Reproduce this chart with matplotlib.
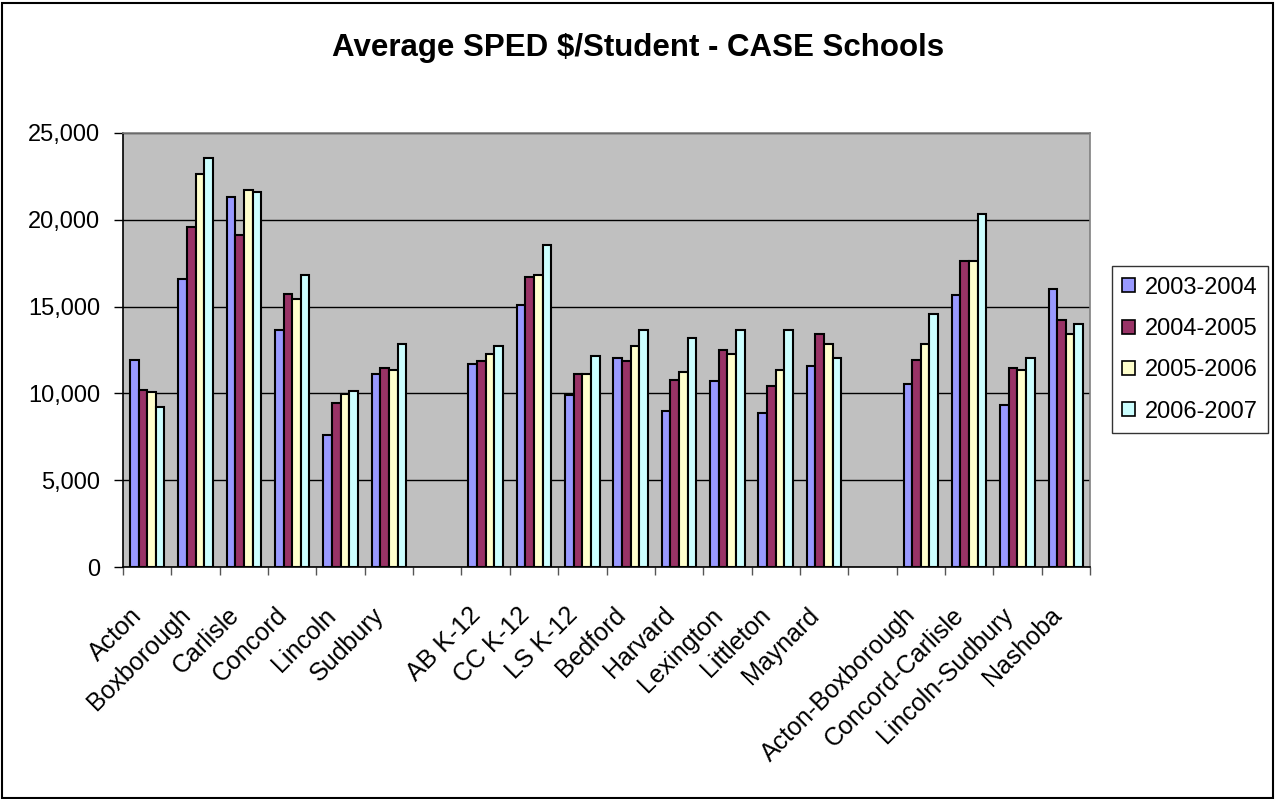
import numpy as np
import matplotlib
matplotlib.use("Agg")
import matplotlib.pyplot as plt
from matplotlib.patches import Rectangle
from matplotlib.ticker import FuncFormatter, MultipleLocator
from matplotlib.transforms import ScaledTranslation

plt.rcParams['font.family'] = ['Liberation Sans', 'DejaVu Sans']

categories = ["Acton", "Boxborough", "Carlisle", "Concord", "Lincoln", "Sudbury", "",
              "AB K-12", "CC K-12", "LS K-12", "Bedford", "Harvard", "Lexington",
              "Littleton", "Maynard", "",
              "Acton-Boxborough", "Concord-Carlisle", "Lincoln-Sudbury", "Nashoba"]

series_names = ["2003-2004", "2004-2005", "2005-2006", "2006-2007"]
nan = np.nan
y2003 = [11950, 16600, 21300, 13650, 7620, 11130, nan,
         11700, 15120, 9880, 12030, 8960, 10690, 8850, 11590, nan,
         10560, 15690, 9310, 16030]
y2004 = [10210, 19560, 19100, 15700, 9430, 11480, nan,
         11840, 16720, 11110, 11840, 10800, 12490, 10440, 13430, nan,
         11940, 17600, 11480, 14220]
y2005 = [10100, 22620, 21700, 15440, 9980, 11360, nan,
         12280, 16820, 11110, 12740, 11260, 12260, 11360, 12820, nan,
         12840, 17600, 11360, 13410]
y2006 = [9200, 23540, 21610, 16820, 10120, 12850, nan,
         12720, 18540, 12160, 13640, 13180, 13640, 13640, 12030, nan,
         14560, 20360, 12050, 13980]

colors = ["#9999FF", "#993366", "#FFFFCC", "#CCFFFF"]

W, H = 1276, 799
fig = plt.figure(figsize=(W / 100, H / 100), dpi=100)
ax = fig.add_axes([123 / W, 1 - 567 / H, (1090 - 123) / W, (567 - 133) / H])
ax.set_facecolor("#C0C0C0")

x = np.arange(len(categories))
group = 1 / 1.4
bw = group / 4
for i, (vals, c, name) in enumerate(zip([y2003, y2004, y2005, y2006], colors, series_names)):
    offs = -group / 2 + bw * (i + 0.5)
    ax.bar(x + offs, vals, width=bw, color=c, edgecolor="black", linewidth=1.5,
           label=name, zorder=3)

ax.set_xlim(-0.5, len(categories) - 0.5)
ax.set_ylim(0, 25000)
ax.yaxis.set_major_locator(MultipleLocator(5000))
ax.yaxis.set_major_formatter(FuncFormatter(lambda v, p: f"{int(v):,}"))
ax.grid(axis="y", color="black", linewidth=1.0, zorder=1)
ax.set_axisbelow(True)

ax.set_xticks(np.arange(len(categories) + 1) - 0.5)
ax.set_xticklabels([])
ax.set_xticks(x, minor=True)
ax.set_xticklabels(categories, minor=True, rotation=45, ha="right",
                   va="top", rotation_mode="anchor", fontsize=18)
ax.tick_params(axis="x", which="minor", length=0, pad=26)
shift = ScaledTranslation(-17 / 100, 0, fig.dpi_scale_trans)
for lab in ax.get_xticklabels(minor=True):
    lab.set_transform(lab.get_transform() + shift)
ax.tick_params(axis="x", which="major", length=6, width=1, color="#555555", direction="out")
ax.tick_params(axis="y", length=6.5, width=1, color="black", direction="out",
               labelsize=17, pad=10)

for side in ["top", "right"]:
    ax.spines[side].set_color("#808080")
    ax.spines[side].set_linewidth(1.2)
for side in ["left", "bottom"]:
    ax.spines[side].set_color("black")
    ax.spines[side].set_linewidth(1.2)

fig.text(0.5, 1 - 48 / H, "Average SPED $/Student - CASE Schools",
         ha="center", va="center", fontsize=22.5, fontweight="bold")

leg = fig.legend(loc="upper left", bbox_to_anchor=(1111.5 / W, 1 - 266 / H),
                 fontsize=17, frameon=True, fancybox=False, borderpad=0.45,
                 labelspacing=0.82, handlelength=0.55, handleheight=0.55,
                 handletextpad=0.4, borderaxespad=0)
leg.get_frame().set_edgecolor("black")
leg.get_frame().set_linewidth(1.0)
for p in leg.get_patches():
    p.set_linewidth(1.2)

fig.patches.append(Rectangle((2 / W, 1 / H), (W - 5) / W, (H - 4) / H,
                             transform=fig.transFigure, fill=False,
                             edgecolor="black", linewidth=1.5))

fig.savefig("out.png", dpi=100)
